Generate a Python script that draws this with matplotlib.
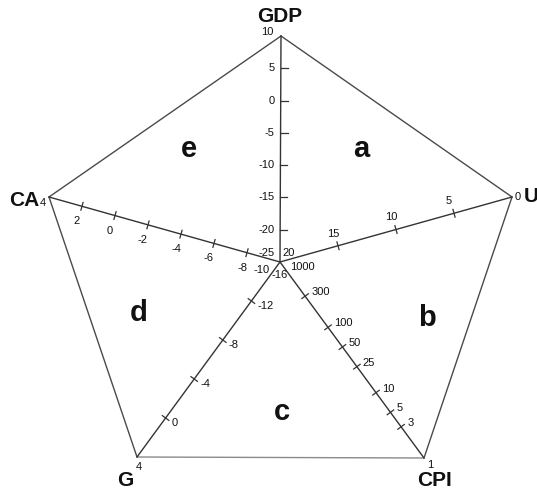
import numpy as np
import matplotlib
matplotlib.use("Agg")
import matplotlib.pyplot as plt

plt.rcParams['font.family'] = ['Liberation Sans', 'DejaVu Sans']

# ---- data ----
axis_names = ["GDP", "U", "CPI", "G", "CA"]
center_values = [-25, 20, 1000, -16, -10]
tip_values = [10, 0, 1, 4, 4]
scales = ["lin", "lin", "log", "lin", "lin"]
gdp_ticks = [5, 0, -5, -10, -15, -20]
u_ticks = [5, 10, 15]
cpi_ticks = [3, 5, 10, 25, 50, 100, 300]
g_ticks = [0, -4, -8, -12]
ca_ticks = [2, 0, -2, -4, -6, -8]
region_labels = ["a", "b", "c", "d", "e"]

# ---- layout (pixel space) ----
W, H = 537, 492
center = np.array([280.0, 262.0])
tips = {"GDP": (281, 36), "U": (512, 197), "CPI": (424, 458),
        "G": (137, 457), "CA": (49, 197)}
ticks = {"GDP": gdp_ticks, "U": u_ticks, "CPI": cpi_ticks, "G": g_ticks, "CA": ca_ticks}
label_off = {"GDP": (-6, 0, 'right', 'center'), "U": (-5, -12, 'center', 'center'),
             "CPI": (6, -4, 'left', 'center'), "G": (6, 5, 'left', 'center'),
             "CA": (-5, 15, 'center', 'center')}
center_lbl_pos = {"GDP": (267, 253), "U": (289, 253), "CPI": (302, 267),
                  "G": (280, 275), "CA": (262, 270)}
tip_lbl_off = {"GDP": (-14, -4), "U": (6, 0), "CPI": (6, 7), "G": (2, 10), "CA": (-6, 6)}
name_pos = {"GDP": (280, 16), "U": (531, 196), "CPI": (435, 480),
            "G": (125, 481), "CA": (24, 200)}
region_pos = [(361, 149), (427, 318), (282, 412), (139, 313), (189, 149)]


def frac(i, v):
    c, t = center_values[i], tip_values[i]
    if scales[i] == "log":
        return (np.log10(v) - np.log10(c)) / (np.log10(t) - np.log10(c))
    return (v - c) / (t - c)


def pos(name, v):
    i = axis_names.index(name)
    tip = np.array(tips[name], dtype=float)
    return center + frac(i, v) * (tip - center)


fig = plt.figure(figsize=(W / 100, H / 100), dpi=100)
ax = fig.add_axes([0, 0, 1, 1])
ax.set_xlim(0, W)
ax.set_ylim(H, 0)
ax.axis("off")

# pentagon outline
order = ["GDP", "U", "CPI", "G", "CA", "GDP"]
for a, b in zip(order[:-1], order[1:]):
    p = pos(a, tip_values[axis_names.index(a)])
    q = pos(b, tip_values[axis_names.index(b)])
    col = "#8a8a8a" if (a, b) == ("CPI", "G") else "#4a4a4a"
    ax.plot([p[0], q[0]], [p[1], q[1]], color=col, lw=1.0, solid_capstyle='round')

tfs = 8
tc = "#111111"
for i, name in enumerate(axis_names):
    c = pos(name, center_values[i])
    t = pos(name, tip_values[i])
    ax.plot([c[0], t[0]], [c[1], t[1]], color="#333333", lw=1.0)
    d = (t - c) / np.linalg.norm(t - c)
    perp = np.array([-d[1], d[0]])
    for v in ticks[name]:
        p = pos(name, v)
        if name == "GDP":
            a0, a1 = p, p + np.array([7, 0])
        else:
            a0, a1 = p - 4 * perp, p + 4 * perp
        ax.plot([a0[0], a1[0]], [a0[1], a1[1]], color="#333333", lw=0.9)
        dx, dy, ha, va = label_off[name]
        ax.text(p[0] + dx, p[1] + dy, f"{v}", fontsize=tfs, ha=ha, va=va, color=tc)
    # center label
    cx, cy = center_lbl_pos[name]
    ax.text(cx, cy, f"{center_values[i]}", fontsize=tfs, ha='center', va='center', color=tc)
    # tip label
    ox, oy = tip_lbl_off[name]
    ax.text(t[0] + ox, t[1] + oy, f"{tip_values[i]}", fontsize=tfs, ha='center', va='center',
            color=tc)
    # axis name
    nx, ny = name_pos[name]
    ax.text(nx, ny, name, fontsize=15, fontweight='bold', ha='center', va='center',
            color="#111111")

for lbl, (x, y) in zip(region_labels, region_pos):
    ax.text(x, y, lbl, fontsize=21, fontweight='bold', ha='center', va='center', color="#111111")

fig.savefig("out.png", dpi=100)
